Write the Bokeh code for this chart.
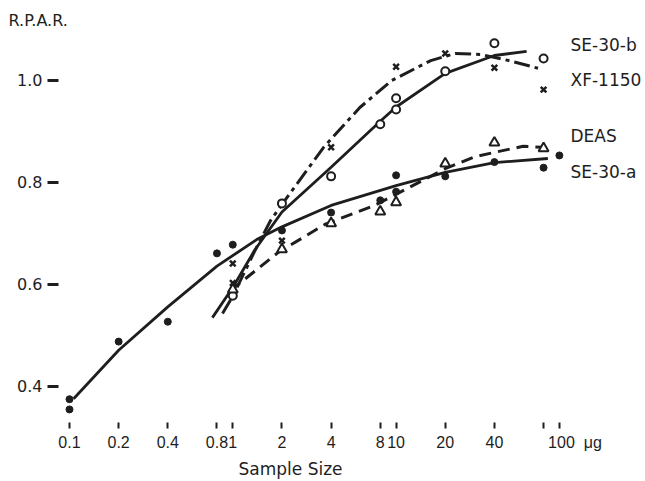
from bokeh.plotting import figure
from bokeh.models import Range1d, FixedTicker, CustomJSTickFormatter, Label, Title
from bokeh.embed import file_html
from bokeh.resources import INLINE

# ---------------- data ----------------
x_ticks = [0.1, 0.2, 0.4, 0.8, 1, 2, 4, 8, 10, 20, 40, 80, 100]
x_tick_labels = ["0.1", "0.2", "0.4", "0.8", "1", "2", "4", "8", "10", "20", "40", "", "100"]
x_unit = "\u03bcg"
y_ticks = [0.4, 0.6, 0.8, 1.0]
y_tick_labels = ["0.4", "0.6", "0.8", "1.0"]

# measured points
se30a_x = [0.1, 0.1, 0.2, 0.4, 0.8, 1, 2, 4, 8, 10, 10, 20, 40, 80, 100]
se30a_y = [0.375, 0.355, 0.488, 0.527, 0.661, 0.678, 0.706, 0.741, 0.765, 0.814, 0.782, 0.812, 0.840, 0.829, 0.853]

xf1150_x = [1, 2, 4, 8, 10, 10, 20, 40, 80]
xf1150_y = [0.578, 0.759, 0.812, 0.914, 0.965, 0.943, 1.018, 1.073, 1.043]

se30b_x = [1, 1, 2, 4, 10, 20, 40, 80]
se30b_y = [0.641, 0.603, 0.686, 0.869, 1.027, 1.053, 1.025, 0.982]

deas_x = [1, 2, 4, 8, 10, 20, 40, 80]
deas_y = [0.590, 0.669, 0.720, 0.743, 0.761, 0.837, 0.878, 0.867]

# hand-drawn fitted curves (traced)
se30a_fit_x = [0.106, 0.2, 0.4, 0.8, 1.4, 2, 4, 10, 20, 40, 85]
se30a_fit_y = [0.376, 0.471, 0.556, 0.636, 0.688, 0.713, 0.755, 0.794, 0.820, 0.839, 0.847]

xf1150_fit_x = [0.75, 1.0, 1.36, 2, 4, 8, 10, 20, 40, 63]
xf1150_fit_y = [0.535, 0.594, 0.667, 0.742, 0.830, 0.920, 0.948, 1.014, 1.049, 1.057]

se30b_fit_x = [0.865, 1.0, 1.36, 1.7, 2.0, 3.6, 6.0, 9.4, 16.3, 23, 33, 49, 74]
se30b_fit_y = [0.543, 0.577, 0.665, 0.725, 0.757, 0.869, 0.947, 1.000, 1.039, 1.053, 1.051, 1.039, 1.024]

deas_fit_x = [0.968, 1.9, 3.72, 7.27, 9.6, 20, 30, 40, 60, 78]
deas_fit_y = [0.588, 0.663, 0.719, 0.754, 0.774, 0.827, 0.850, 0.859, 0.871, 0.869]

# ---------------- styling ----------------
INK = "#1e1e1e"
FONT = "DejaVu Sans"
TICKFONT = "Liberation Sans"
NB = "\u00a0"

p = figure(width=645, height=481, title=None, x_axis_type="log",
           x_range=Range1d(0.08565, 336.7), y_range=Range1d(0.3176, 1.098),
           output_backend="svg", toolbar_location=None,
           min_border_left=58, min_border_right=0, min_border_top=30, min_border_bottom=53)
p.outline_line_color = None
p.xgrid.grid_line_color = None
p.ygrid.grid_line_color = None
p.background_fill_color = "white"
p.border_fill_color = "white"

fmt_code = """
for (let i = 0; i < vals.length; i++) {
  if (Math.abs(vals[i] - tick) < 1e-6 * Math.abs(vals[i])) { return labs[i]; }
}
return '';
"""

# last label carries the unit, padded so that the number stays under its tick
x_labels_drawn = list(x_tick_labels)
x_labels_drawn[-1] = NB * 7 + x_tick_labels[-1] + NB * 2 + x_unit

xa = p.xaxis[0]
xa.ticker = FixedTicker(ticks=x_ticks, minor_ticks=[])
xa.formatter = CustomJSTickFormatter(args=dict(vals=x_ticks, labs=x_labels_drawn), code=fmt_code)
xa.axis_line_color = None
xa.major_tick_in = 6
xa.major_tick_out = 0
xa.major_tick_line_width = 2
xa.major_tick_line_color = INK
xa.minor_tick_line_color = None
xa.major_label_standoff = 5
xa.major_label_text_font = TICKFONT
xa.major_label_text_font_size = "16px"
xa.major_label_text_color = INK

ya = p.yaxis[0]
ya.ticker = FixedTicker(ticks=y_ticks, minor_ticks=[])
ya.formatter = CustomJSTickFormatter(args=dict(vals=y_ticks, labs=y_tick_labels), code=fmt_code)
ya.axis_line_color = None
ya.major_tick_in = 0
ya.major_tick_out = 11
ya.major_tick_line_width = 3
ya.major_tick_line_color = INK
ya.minor_tick_line_color = None
ya.major_label_standoff = 5
ya.major_label_text_font = FONT
ya.major_label_text_font_size = "16px"
ya.major_label_text_color = INK

# curves
p.line(se30a_fit_x, se30a_fit_y, line_color=INK, line_width=2.8)
p.line(xf1150_fit_x, xf1150_fit_y, line_color=INK, line_width=2.8)
p.line(se30b_fit_x, se30b_fit_y, line_color=INK, line_width=3, line_dash="16 5 4 5")
p.line(deas_fit_x, deas_fit_y, line_color=INK, line_width=3, line_dash="12 7")

# markers
p.scatter(se30a_x, se30a_y, marker="circle", size=7, fill_color=INK, line_color=INK)
p.scatter(xf1150_x, xf1150_y, marker="circle", size=8, fill_color="white", line_color=INK, line_width=2)
p.scatter(deas_x, deas_y, marker="triangle", size=10, fill_color="white", line_color=INK, line_width=2)
p.scatter(se30b_x, se30b_y, marker="x", size=8, line_color=INK, line_width=2.5)

# series labels (data units, inside the frame)
def add_label(x, y, text, size="17px"):
    p.add_layout(Label(x=x, y=y, text=text, text_font=FONT, text_font_size=size,
                       text_color=INK, text_align="left", text_baseline="middle"))

add_label(117, 1.0686, "SE-30-b")
add_label(117, 1.000, "XF-1150")
add_label(117, 0.892, "DEAS")
add_label(117, 0.820, "SE-30-a")

# y-axis caption at the top-left and x-axis caption below
p.add_layout(Title(text="R.P.A.R.", align="left", offset=-50, standoff=2,
                   text_font=FONT, text_font_size="16px", text_font_style="normal",
                   text_color=INK), "above")
p.add_layout(Title(text="Sample Size", align="left", offset=180, standoff=6,
                   text_font=FONT, text_font_size="17px", text_font_style="normal",
                   text_color=INK), "below")

open("out.html", "w").write(file_html(p, INLINE))
